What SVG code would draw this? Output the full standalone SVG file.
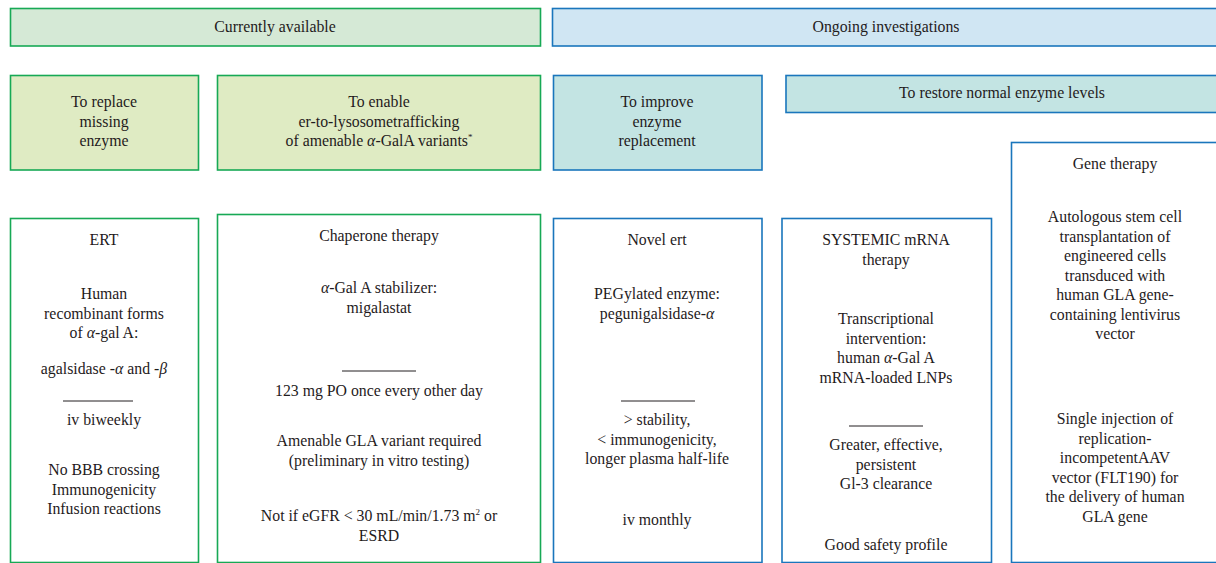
<svg xmlns="http://www.w3.org/2000/svg" width="1216" height="563" viewBox="0 0 1216 563">
<style>
text{font-family:"Liberation Serif","Times New Roman","DejaVu Serif",serif;font-size:15.8px;fill:#1f1b1c;text-anchor:middle}
.g{stroke:#17a955;stroke-width:1.6}
.b{stroke:#1a76bc;stroke-width:1.6}
.fca{fill:#d5e9d6}
.fgy{fill:#dfebc3}
.fog{fill:#d0e6f3}
.ftl{fill:#c3e4e3}
.fw{fill:#ffffff}
.sep{stroke:#231f20;stroke-width:1}
.i{font-style:italic}
</style>
<rect width="1216" height="563" fill="#ffffff"/>
<g id="currently-available"><rect class="g fca" x="10.5" y="8.5" width="530" height="37.5"/><text x="275" y="32">Currently available</text></g>
<g id="ongoing-investigations"><rect class="b fog" x="552.5" y="8.5" width="680" height="37.5"/><text x="886" y="32">Ongoing investigations</text></g>
<g id="to-replace"><rect class="g fgy" x="10.5" y="75.5" width="188" height="94.5"/><text x="104" y="107">To replace</text><text x="104" y="126.5">missing</text><text x="104" y="146">enzyme</text></g>
<g id="to-enable"><rect class="g fgy" x="217.5" y="75.5" width="323" height="94.5"/><text x="379" y="107">To enable</text><text x="379" y="126.5">er-to-lysosometrafficking</text><text x="379" y="146">of amenable <tspan class="i">α</tspan>-GalA variants<tspan font-size="9" dy="-6">*</tspan></text></g>
<g id="to-improve"><rect class="b ftl" x="553.5" y="75.5" width="208.5" height="94.5"/><text x="657" y="107">To improve</text><text x="657" y="126.5">enzyme</text><text x="657" y="146">replacement</text></g>
<g id="to-restore"><rect class="b ftl" x="786" y="75.5" width="450" height="37"/><text x="1002" y="98">To restore normal enzyme levels</text></g>
<g id="gene-therapy"><rect class="b fw" x="1011.5" y="142.5" width="230" height="420"/>
<text x="1115" y="169">Gene therapy</text>
<text x="1115" y="222">Autologous stem cell</text><text x="1115" y="241.5">transplantation of</text><text x="1115" y="261">engineered cells</text><text x="1115" y="280.5">transduced with</text><text x="1115" y="300">human GLA gene-</text><text x="1115" y="319.5">containing lentivirus</text><text x="1115" y="339">vector</text>
<text x="1115" y="424">Single injection of</text><text x="1115" y="443.5">replication-</text><text x="1115" y="463">incompetentAAV</text><text x="1115" y="482.5">vector (FLT190) for</text><text x="1115" y="502">the delivery of human</text><text x="1115" y="521.5">GLA gene</text></g>
<g id="ert"><rect class="g fw" x="10.5" y="218.5" width="188" height="344"/>
<text x="104" y="245">ERT</text>
<text x="104" y="299">Human</text><text x="104" y="318.5">recombinant forms</text><text x="104" y="338">of <tspan class="i">α</tspan>-gal A:</text>
<text x="104" y="374">agalsidase -<tspan class="i">α</tspan> and -<tspan class="i">β</tspan></text>
<line class="sep" x1="63" y1="401" x2="133" y2="401"/>
<text x="104" y="425">iv biweekly</text>
<text x="104" y="475">No BBB crossing</text><text x="104" y="494.5">Immunogenicity</text><text x="104" y="514">Infusion reactions</text></g>
<g id="chaperone-therapy"><rect class="g fw" x="217.5" y="214.5" width="323" height="348"/>
<text x="379" y="241">Chaperone therapy</text>
<text x="379" y="293"><tspan class="i">α</tspan>-Gal A stabilizer:</text><text x="379" y="312.5">migalastat</text>
<line class="sep" x1="342" y1="371" x2="416" y2="371"/>
<text x="379" y="396">123 mg PO once every other day</text>
<text x="379" y="446">Amenable GLA variant required</text><text x="379" y="465.5">(preliminary in vitro testing)</text>
<text x="379" y="521">Not if eGFR &lt; 30 mL/min/1.73 m<tspan font-size="9" dy="-6">2</tspan><tspan dy="6"> or</tspan></text><text x="379" y="541">ESRD</text></g>
<g id="novel-ert"><rect class="b fw" x="553.5" y="218.5" width="208.5" height="344"/>
<text x="657" y="245">Novel ert</text>
<text x="657" y="299">PEGylated enzyme:</text><text x="657" y="318.5">pegunigalsidase-<tspan class="i">α</tspan></text>
<line class="sep" x1="621" y1="401" x2="695" y2="401"/>
<text x="657" y="425">&gt; stability,</text><text x="657" y="444.5">&lt; immunogenicity,</text><text x="657" y="464">longer plasma half-life</text>
<text x="657" y="525">iv monthly</text></g>
<g id="systemic-mrna"><rect class="b fw" x="782" y="218.5" width="209.5" height="344"/>
<text x="886" y="245">SYSTEMIC mRNA</text><text x="886" y="264.5">therapy</text>
<text x="886" y="324">Transcriptional</text><text x="886" y="343.5">intervention:</text><text x="886" y="363">human <tspan class="i">α</tspan>-Gal A</text><text x="886" y="382.5">mRNA-loaded LNPs</text>
<line class="sep" x1="849" y1="426" x2="923" y2="426"/>
<text x="886" y="450">Greater, effective,</text><text x="886" y="469.5">persistent</text><text x="886" y="489">Gl-3 clearance</text>
<text x="886" y="550">Good safety profile</text></g>
<g id="connectors"/>
</svg>
